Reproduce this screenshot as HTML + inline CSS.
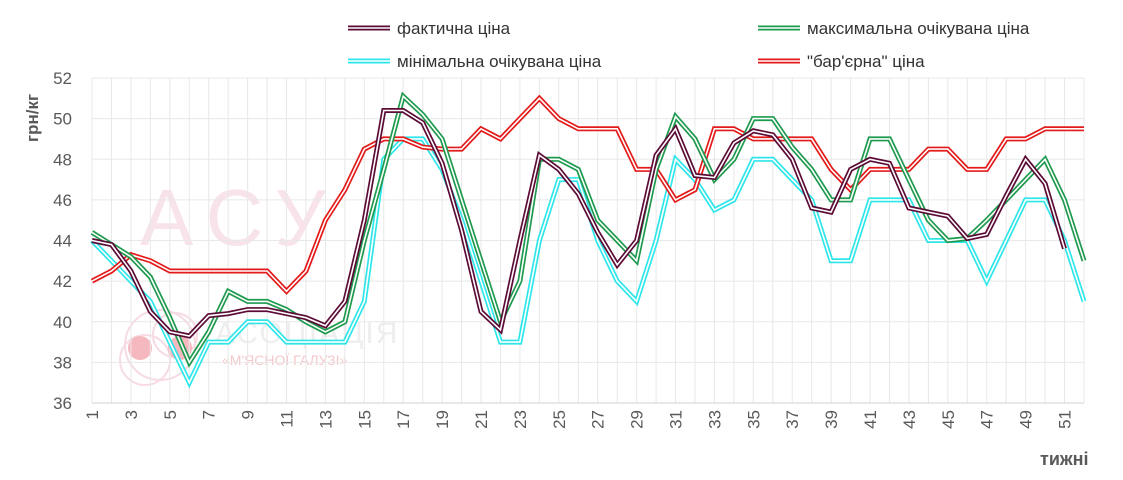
<!DOCTYPE html>
<html><head><meta charset="utf-8"><style>
body{margin:0;background:#fff;}
svg{display:block;font-family:"Liberation Sans",sans-serif;}
</style></head><body>
<svg id="c" width="1123" height="480" xmlns="http://www.w3.org/2000/svg"></svg>
<script>
const s=document.getElementById('c');
const X0=92,X1=1084,Y0=403;
const dx=(X1-X0)/51;
const X=i=>X0+i*dx, Y=v=>Y0-(v-36)*20.3125;
let h='';
h+='<g opacity="0.5" fill="none" stroke="#f0b8c8" stroke-width="2"><text x="140" y="245" font-size="80" fill="#f3c8d6" stroke="none" letter-spacing="14">АСУ</text>';
h+='<circle cx="160" cy="345" r="35"/><circle cx="145" cy="360" r="25"/><circle cx="175" cy="335" r="22"/></g>';
h+='<circle cx="140" cy="348" r="12" fill="#f6b8bf"/><circle cx="180" cy="348" r="12" fill="#f6b8bf"/>';
h+='<text x="215" y="343" font-size="30" fill="#eee" letter-spacing="2">АСОЦІАЦІЯ</text>';
h+='<text x="222" y="365" font-size="14" fill="#f6c8cc">«М\'ЯСНОЇ ГАЛУЗІ»</text>';
for(let i=0;i<52;i++)h+=`<line x1="${X(i)}" y1="78" x2="${X(i)}" y2="${Y0}" stroke="#e8e8e8" stroke-width="1"/>`;
for(let v=36;v<=52;v+=2){h+=`<line x1="${X0}" y1="${Y(v)}" x2="${X1}" y2="${Y(v)}" stroke="${v==36?'#d0d0d0':'#e8e8e8'}"/>`;
h+=`<text x="72" y="${Y(v)+6}" font-size="17" fill="#595959" text-anchor="end">${v}</text>`;}
for(let i=0;i<52;i+=2)h+=`<text transform="translate(${X(i)+6},410) rotate(-90)" font-size="17" fill="#595959" text-anchor="end">${i+1}</text>`;
h+='<text x="1040" y="465" font-size="18" fill="#595959" font-weight="bold">тижні</text>';
h+='<text transform="translate(38,142) rotate(-90)" font-size="17" fill="#595959" font-weight="bold">грн/кг</text>';
const fact=[44,43.8,42.5,40.5,39.5,39.3,40.3,40.4,40.6,40.6,40.4,40.2,39.8,41,45,50.4,50.4,49.8,47.8,44.5,40.5,39.6,44,48.2,47.5,46.3,44.4,42.8,44,48.2,49.5,47.2,47.1,48.8,49.4,49.2,48,45.6,45.4,47.5,48,47.8,45.6,45.4,45.2,44.1,44.3,46.2,48,46.8,43.6];
const mx=[44.4,43.8,43.2,42.2,40.2,38,39.5,41.5,41,41,40.6,40,39.5,40,44,47.5,51.1,50.2,49,46,43,40,42,48,48,47.5,45,44,43,47.5,50.1,49,47,48,50,50,48.6,47.5,46,46,49,49,47,45,44,44.1,45,46,47,48,46,43];
const mn=[44,43,42,41,39,37,39,39,40,40,39,39,39,39,41,48,49,49,47.5,45,42,39,39,44,47,47,44,42,41,44,48,47,45.5,46,48,48,47,46,43,43,46,46,46,44,44,44,42,44,46,46,44,41];
const bar=[42,42.5,43.3,43,42.5,42.5,42.5,42.5,42.5,42.5,41.5,42.5,45,46.5,48.5,49,49,48.6,48.5,48.5,49.5,49,50,51,50,49.5,49.5,49.5,47.5,47.5,46,46.5,49.5,49.5,49,49,49,49,47.5,46.5,47.5,47.5,47.5,48.5,48.5,47.5,47.5,49,49,49.5,49.5,49.5];
function line(d,c){const p=d.map((v,i)=>X(i).toFixed(1)+','+Y(v).toFixed(1)).join(' ');
return `<polyline points="${p}" fill="none" stroke="${c}" stroke-width="5" stroke-linejoin="miter"/><polyline points="${p}" fill="none" stroke="#fff" stroke-width="1.6"/>`;}
h+=line(mn,'#2ee6ea')+line(bar,'#e31a1a')+line(mx,'#1e9a4e')+line(fact,'#5b0b36');
function leg(x,y,c,t){return `<line x1="${x}" y1="${y}" x2="${x+42}" y2="${y}" stroke="${c}" stroke-width="5"/><line x1="${x}" y1="${y}" x2="${x+42}" y2="${y}" stroke="#fff" stroke-width="1.6"/><text x="${x+49}" y="${y+6}" font-size="17" fill="#333">${t}</text>`;}
h+=leg(348,28,'#5b0b36','фактична ціна')+leg(758,28,'#1e9a4e','максимальна очікувана ціна')+leg(348,61,'#2ee6ea','мінімальна очікувана ціна')+leg(758,61,'#e31a1a','"бар\'єрна" ціна');
s.innerHTML=h;
</script>
</body></html>
